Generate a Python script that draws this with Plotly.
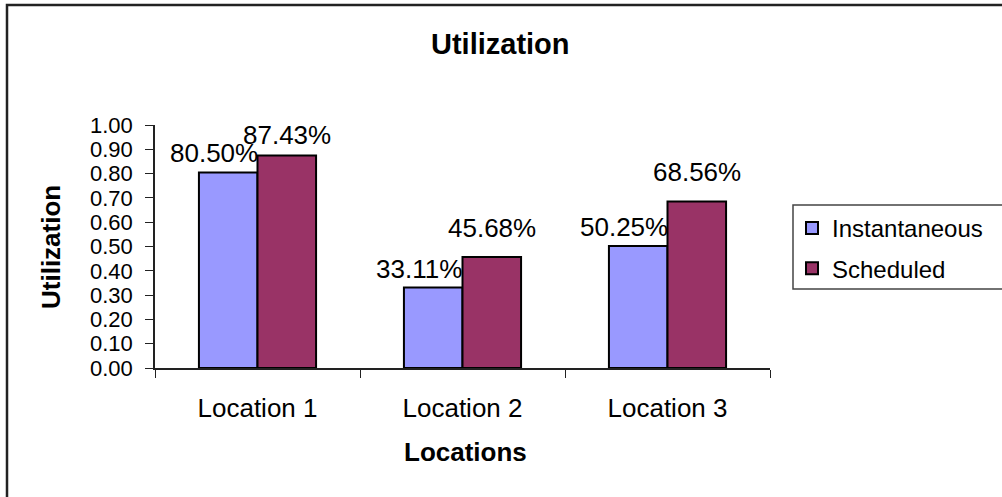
import plotly.graph_objects as go

# Chart data
locations = ["Location 1", "Location 2", "Location 3"]
instantaneous = [0.8050, 0.3311, 0.5025]
scheduled = [0.8743, 0.4568, 0.6856]
y_ticks = [0.0, 0.1, 0.2, 0.3, 0.4, 0.5, 0.6, 0.7, 0.8, 0.9, 1.0]

FONT = "Liberation Sans, Arial, sans-serif"
BLUE = "#9999FF"
PLUM = "#993366"

W, H = 1002, 497
L, R, T, B = 155, 232, 125, 129          # plot area 155..770 x 125..368
PW, PH = W - L - R, H - T - B

def px_x(p):
    return (p - L) / PW

def px_y(p):
    return (H - B - p) / PH

fig = go.Figure()
fig.add_trace(go.Bar(
    name="Instantaneous", x=locations, y=instantaneous, legendgroup="a",
    marker=dict(color=BLUE, line=dict(color="black", width=2)),
))
fig.add_trace(go.Bar(
    name="Scheduled", x=locations, y=scheduled, legendgroup="b",
    marker=dict(color=PLUM, line=dict(color="black", width=2)),
))

annotations = []
# value labels above each bar, kept inside the chart area
for i, (a, b) in enumerate(zip(instantaneous, scheduled)):
    top_b = (1 - b) * PH + T
    annotations.append(dict(
        x=i, y=a, xref="x", yref="y", text=f"{a*100:.2f}%", showarrow=False,
        xshift=-44, yshift=19, yanchor="middle", xanchor="center",
        font=dict(family=FONT, size=26, color="black")))
    shift_b = min(29, top_b - 134.5)
    annotations.append(dict(
        x=i, y=b, xref="x", yref="y", text=f"{b*100:.2f}%", showarrow=False,
        xshift=29, yshift=shift_b, yanchor="middle", xanchor="center",
        font=dict(family=FONT, size=26, color="black")))

annotations += [
    dict(x=px_x(500), y=px_y(44), xref="paper", yref="paper", text="<b>Utilization</b>",
         showarrow=False, xanchor="center", yanchor="middle",
         font=dict(family=FONT, size=29, color="black")),
    dict(x=px_x(51), y=px_y(247), xref="paper", yref="paper", text="<b>Utilization</b>",
         showarrow=False, xanchor="center", yanchor="middle", textangle=-90,
         font=dict(family=FONT, size=26, color="black")),
    dict(x=px_x(465), y=px_y(452), xref="paper", yref="paper", text="<b>Locations</b>",
         showarrow=False, xanchor="center", yanchor="middle",
         font=dict(family=FONT, size=26, color="black")),
]

shapes = [
    # outer chart frame
    dict(type="rect", xref="paper", yref="paper",
         x0=px_x(7), x1=px_x(1020), y0=px_y(5), y1=px_y(520),
         line=dict(color="#222222", width=2.5), fillcolor="rgba(0,0,0,0)", layer="below"),
    # legend box
    dict(type="rect", xref="paper", yref="paper",
         x0=px_x(793), x1=px_x(1020), y0=px_y(205), y1=px_y(289),
         line=dict(color="#444444", width=1.5), fillcolor="white", layer="below"),
]

fig.update_layout(
    width=W, height=H,
    margin=dict(l=L, r=R, t=T, b=B, pad=0),
    paper_bgcolor="white", plot_bgcolor="white",
    barmode="group", bargap=0.4286, bargroupgap=0,
    font=dict(family=FONT, size=24, color="black"),
    showlegend=True,
    legend=dict(x=px_x(792), y=px_y(206), xanchor="left", yanchor="top",
                bgcolor="rgba(0,0,0,0)", borderwidth=0,
                font=dict(family=FONT, size=24, color="black"),
                itemwidth=30, tracegroupgap=6, traceorder="grouped"),
    annotations=annotations,
    shapes=shapes,
)
fig.update_xaxes(
    showline=True, linecolor="#222222", linewidth=1.5,
    ticks="outside", tickson="boundaries", ticklen=8, tickcolor="#222222",
    tickfont=dict(family=FONT, size=26), ticklabelstandoff=16,
    showgrid=False, zeroline=False, fixedrange=True,
)
fig.update_yaxes(
    range=[0, 1], tickvals=y_ticks, ticktext=[f"{v:.2f}" for v in y_ticks],
    showline=True, linecolor="#222222", linewidth=1.5,
    ticks="outside", ticklen=8, tickcolor="#222222",
    tickfont=dict(family=FONT, size=22), ticklabelstandoff=8,
    showgrid=False, zeroline=False, fixedrange=True,
)

fig.write_html("out.html", config={"displayModeBar": False})
